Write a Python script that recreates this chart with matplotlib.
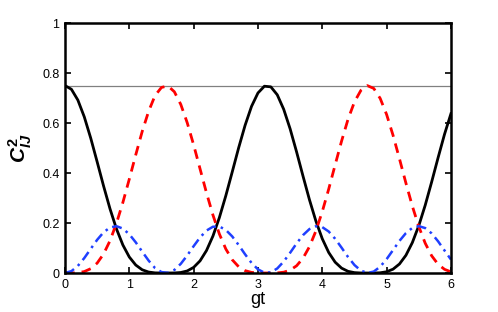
import matplotlib
matplotlib.use("Agg")
import matplotlib.pyplot as plt

# values (gt step 0.1)
gt = [round(0.1 * i, 1) for i in range(61)]
c_ii = [0.7500, 0.7351, 0.6920, 0.6247, 0.5398, 0.4448, 0.3480, 0.2567, 0.1767, 0.1120,
        0.0639, 0.0319, 0.0129, 0.0038, 0.0005, 0.0000, 0.0000, 0.0002, 0.0020, 0.0082,
        0.0225, 0.0487, 0.0900, 0.1478, 0.2217, 0.3090, 0.4044, 0.5012, 0.5911, 0.6668,
        0.7204, 0.7474, 0.7449, 0.7131, 0.6552, 0.5768, 0.4850, 0.3880, 0.2936, 0.2083,
        0.1369, 0.0820, 0.0433, 0.0194, 0.0067, 0.0015, 0.0001, 0.0000, 0.0000, 0.0009,
        0.0049, 0.0153, 0.0361, 0.0708, 0.1217, 0.1892, 0.2712, 0.3641, 0.4612, 0.5550,
        0.6375]
c_jj = [0.0000, 0.0001, 0.0012, 0.0057, 0.0172, 0.0396, 0.0762, 0.1292, 0.1986, 0.2824,
        0.3760, 0.4727, 0.5660, 0.6469, 0.7100, 0.7425, 0.7487, 0.7253, 0.6746, 0.6014,
        0.5127, 0.4164, 0.3205, 0.2319, 0.1561, 0.0962, 0.0530, 0.0250, 0.0094, 0.0024,
        0.0003, 0.0000, 0.0000, 0.0005, 0.0032, 0.0114, 0.0288, 0.0591, 0.1051, 0.1678,
        0.2460, 0.3360, 0.4328, 0.5280, 0.6150, 0.6846, 0.7307, 0.7498, 0.7386, 0.6987,
        0.6342, 0.5510, 0.4569, 0.3599, 0.2675, 0.1859, 0.1192, 0.0690, 0.0349, 0.0147,
        0.0046]
c_ij = [0.0000, 0.0074, 0.0284, 0.0598, 0.0965, 0.1328, 0.1629, 0.1821, 0.1873, 0.1778,
        0.1550, 0.1227, 0.0855, 0.0497, 0.0197, 0.0037, 0.0006, 0.0122, 0.0367, 0.0702,
        0.1074, 0.1424, 0.1698, 0.1851, 0.1861, 0.1724, 0.1463, 0.1119, 0.0747, 0.0404,
        0.0146, 0.0013, 0.0025, 0.0182, 0.0458, 0.0809, 0.1181, 0.1514, 0.1757, 0.1870,
        0.1835, 0.1660, 0.1369, 0.1013, 0.0641, 0.0319, 0.0096, 0.0001, 0.0057, 0.0252,
        0.0555, 0.0918, 0.1285, 0.1596, 0.1804, 0.1875, 0.1798, 0.1585, 0.1269, 0.0902,
        0.0540]
total_level = 0.75

xticks = [0, 1, 2, 3, 4, 5, 6]
yticks = [0, 0.2, 0.4, 0.6, 0.8, 1]
ytick_labels = ["0", "0.2", "0.4", "0.6", "0.8", "1"]

plt.rcParams["font.family"] = ["Liberation Sans", "DejaVu Sans"]
plt.rcParams["mathtext.fontset"] = "custom"
plt.rcParams["mathtext.it"] = "Liberation Sans:bold:italic"
plt.rcParams["mathtext.rm"] = "Liberation Sans:bold"

fig = plt.figure(figsize=(4.98, 3.12), dpi=100)
ax = fig.add_axes([0.1305, 0.125, 0.775, 0.801])

ax.axhline(total_level, color="#808080", lw=0.9)
ax.plot(gt, c_ii, color="black", lw=2)
ax.plot(gt, c_jj, color="red", lw=2, ls=(0, (3.5, 2.5)))
ax.plot(gt, c_ij, color="#1f3fff", lw=1.8, ls=(0, (4, 2, 1, 2)))

ax.set_xlim(0, 6)
ax.set_ylim(0, 1)
ax.set_xticks(xticks)
ax.set_yticks(yticks)
ax.set_yticklabels(ytick_labels)
ax.tick_params(direction="in", length=4, width=1.2, top=True, right=True,
               labelsize=9, pad=4)
for sp in ax.spines.values():
    sp.set_linewidth(1.8)

ax.set_xlabel("gt", fontsize=13, labelpad=0)
ax.set_ylabel(r"$C^{2}_{IJ}$", fontsize=15, labelpad=6)

fig.savefig("out.png", dpi=100)
